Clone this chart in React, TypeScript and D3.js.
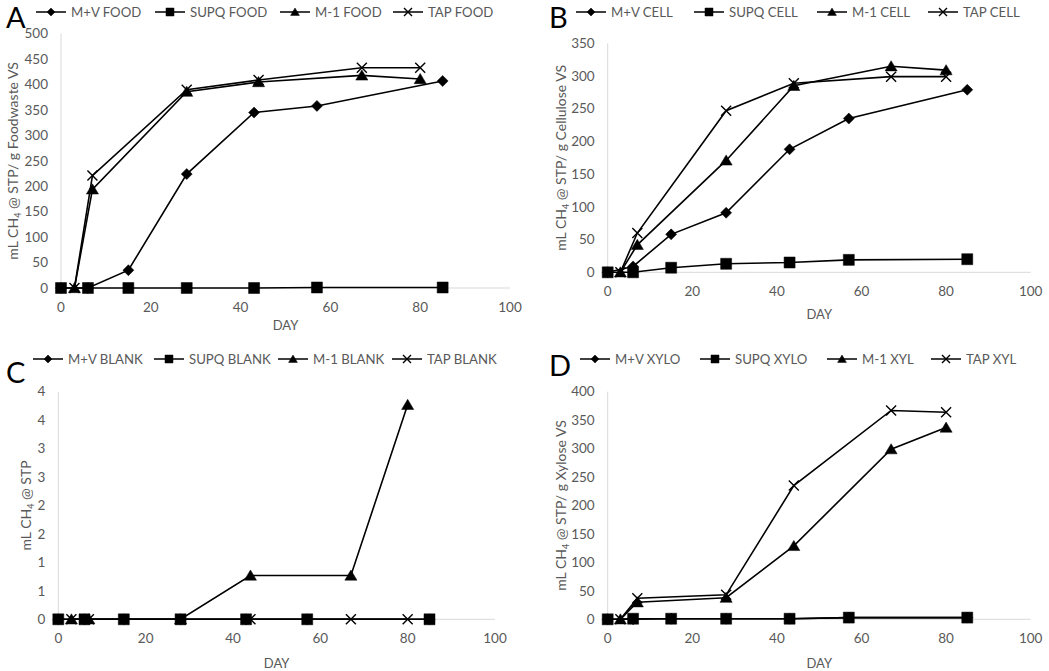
import React from 'react';
import * as d3 from 'd3';

// ---- data ----
const daysMV = [0, 6, 15, 28, 43, 57, 85]; // M+V and SUPQ sampling days
const daysM1 = [3, 7, 28, 44, 67, 80]; // M-1 and TAP sampling days

const foodNames = ['M+V FOOD', 'SUPQ FOOD', 'M-1 FOOD', 'TAP FOOD'];
const foodMV = [0, 0, 35, 224, 345, 358, 407];
const foodSUPQ = [0, 0, 0, 0, 0, 1, 1];
const foodM1 = [0, 194, 386, 405, 418, 411];
const foodTAP = [0, 221, 390, 409, 433, 433];

const cellNames = ['M+V CELL', 'SUPQ CELL', 'M-1 CELL', 'TAP CELL'];
const cellMV = [0, 9, 58, 91, 188, 235, 279];
const cellSUPQ = [0, 0, 7, 13, 15, 19, 20];
const cellM1 = [0, 42, 171, 285, 315, 309];
const cellTAP = [0, 60, 247, 289, 299, 299];

const blankNames = ['M+V BLANK', 'SUPQ BLANK', 'M-1 BLANK', 'TAP BLANK'];
const blankMV = [0, 0, 0, 0, 0, 0, 0];
const blankSUPQ = [0, 0, 0, 0, 0, 0, 0];
const blankM1 = [0, 0, 0, 0.77, 0.77, 3.77];
const blankTAP = [0, 0, 0, 0, 0, 0];

const xyloNames = ['M+V XYLO', 'SUPQ XYLO', 'M-1 XYL', 'TAP XYL'];
const xyloMV = [0, 0, 1, 1, 1, 3, 3];
const xyloSUPQ = [0, 1, 1, 1, 1, 3, 3];
const xyloM1 = [0, 30, 38, 129, 299, 337];
const xyloTAP = [0, 37, 43, 235, 367, 364];

const xTicks = [0, 20, 40, 60, 80, 100];
const yTicksA = d3.range(0, 501, 50);
const yTicksB = d3.range(0, 351, 50);
const yTicksC = d3.range(0, 4.01, 0.5);
const yTicksD = d3.range(0, 401, 50);

const markerKinds = ['diamond', 'square', 'triangle', 'x'];

const FONT = 'Lato, "Open Sans", sans-serif';
const GRAY = '#595959';
const AXIS = '#d9d9d9';

function markerPath(kind: string, s: number) {
  if (kind === 'diamond') return `M0,${-s}L${s},0L0,${s}L${-s},0Z`;
  if (kind === 'square') return `M${-s},${-s}H${s}V${s}H${-s}Z`;
  if (kind === 'triangle') return `M0,${-s}L${s * 1.1},${s * 0.85}L${-s * 1.1},${s * 0.85}Z`;
  return `M${-s},${-s}L${s},${s}M${s},${-s}L${-s},${s}`;
}

function Marker({ kind, x, y, s }: { kind: string; x: number; y: number; s: number }) {
  const isX = kind === 'x';
  return (
    <path
      d={markerPath(kind, s)}
      transform={`translate(${x},${y})`}
      fill={isX ? 'none' : '#000'}
      stroke="#000"
      strokeWidth={isX ? 1.4 : 0.5}
    />
  );
}

type PanelProps = {
  letter: string;
  letterX: number;
  letterY: number;
  names: string[];
  series: number[][];
  yMax: number;
  yTicks: number[];
  yFmt: (v: number) => string;
  x0: number;
  x1: number;
  y0: number;
  y1: number;
  legendY: number;
  legendX: number[];
  titleX: number;
  titleRest: string;
  dayY: number;
};

function Panel(p: PanelProps) {
  const x = d3.scaleLinear().domain([0, 100]).range([p.x0, p.x1]);
  const y = d3.scaleLinear().domain([0, p.yMax]).range([p.y0, p.y1]);
  const daysFor = (i: number) => (i < 2 ? daysMV : daysM1);
  const line = d3.line<[number, number]>().x((d) => x(d[0])).y((d) => y(d[1]));
  const midY = (p.y0 + p.y1) / 2;
  return (
    <g>
      <text x={p.letterX} y={p.letterY} fontFamily={FONT} fontSize={29} fill="#000">
        {p.letter}
      </text>
      {p.names.map((n, i) => {
        const lx = p.legendX[i];
        return (
          <g key={n}>
            <line x1={lx} x2={lx + 30} y1={p.legendY} y2={p.legendY} stroke="#000" strokeWidth={1.5} />
            <Marker kind={markerKinds[i]} x={lx + 15} y={p.legendY} s={4} />
            <text x={lx + 35} y={p.legendY} dy="0.35em" fontFamily={FONT} fontSize={13.2} fill={GRAY}>
              {n}
            </text>
          </g>
        );
      })}
      <line x1={p.x0} x2={p.x0} y1={p.y0} y2={p.y1} stroke={AXIS} strokeWidth={1} />
      <line x1={p.x0} x2={p.x1} y1={p.y0} y2={p.y0} stroke={AXIS} strokeWidth={1} />
      {p.yTicks.map((t) => (
        <text key={'y' + t} x={p.x0 - 13} y={y(t)} dy="0.35em" textAnchor="end" fontFamily={FONT} fontSize={13.5} fill={GRAY}>
          {p.yFmt(t)}
        </text>
      ))}
      {xTicks.map((t) => (
        <text key={'x' + t} x={x(t)} y={p.y0 + 19} dy="0.35em" textAnchor="middle" fontFamily={FONT} fontSize={13.5} fill={GRAY}>
          {t}
        </text>
      ))}
      <text x={(p.x0 + p.x1) / 2} y={p.dayY} dy="0.35em" textAnchor="middle" fontFamily={FONT} fontSize={13} fill={GRAY}>
        DAY
      </text>
      <text
        transform={`translate(${p.titleX},${midY}) rotate(-90)`}
        textAnchor="middle"
        dy="0.35em"
        fontFamily={FONT}
        fontSize={14}
        fill={GRAY}
      >
        mL CH<tspan fontSize={9} dy="3">4</tspan>
        <tspan dy="-3">{p.titleRest}</tspan>
      </text>
      {p.series.map((vals, i) => {
        const pts = vals.map((v, j) => [daysFor(i)[j], v] as [number, number]);
        return (
          <g key={'s' + i}>
            <path d={line(pts) || ''} fill="none" stroke="#000" strokeWidth={1.6} />
            {pts.map((d, j) => (
              <Marker key={j} kind={markerKinds[i]} x={x(d[0])} y={y(d[1])} s={i === 3 ? 5 : 5.5} />
            ))}
          </g>
        );
      })}
    </g>
  );
}

export default function App() {
  const intFmt = (v: number) => String(v);
  const roundFmt = (v: number) => String(Math.round(v));
  return (
    <svg width={1049} height={671} style={{ position: 'absolute', left: 0, top: 0, background: '#fff' }}>
      <rect width={1049} height={671} fill="#fff" />
      <Panel
        letter="A" letterX={6} letterY={28}
        names={foodNames} series={[foodMV, foodSUPQ, foodM1, foodTAP]}
        yMax={500} yTicks={yTicksA} yFmt={intFmt}
        x0={61} x1={510} y0={288} y1={33.7}
        legendY={12} legendX={[36, 155, 280, 393]}
        titleX={13} titleRest=" @ STP/ g Foodwaste VS" dayY={325}
      />
      <Panel
        letter="B" letterX={549} letterY={28}
        names={cellNames} series={[cellMV, cellSUPQ, cellM1, cellTAP]}
        yMax={350} yTicks={yTicksB} yFmt={intFmt}
        x0={607.7} x1={1030.7} y0={272.3} y1={43.3}
        legendY={12} legendX={[576, 694, 817, 928]}
        titleX={561} titleRest=" @ STP/ g Cellulose VS" dayY={314}
      />
      <Panel
        letter="C" letterX={6} letterY={383}
        names={blankNames} series={[blankMV, blankSUPQ, blankM1, blankTAP]}
        yMax={4} yTicks={yTicksC} yFmt={roundFmt}
        x0={58.3} x1={495} y0={619.3} y1={391.7}
        legendY={359} legendX={[33, 154, 278, 392]}
        titleX={26} titleRest=" @ STP" dayY={663}
      />
      <Panel
        letter="D" letterX={549} letterY={376}
        names={xyloNames} series={[xyloMV, xyloSUPQ, xyloM1, xyloTAP]}
        yMax={400} yTicks={yTicksD} yFmt={intFmt}
        x0={607.7} x1={1030.7} y0={619.3} y1={391.7}
        legendY={359} legendX={[580, 700, 827, 931]}
        titleX={561} titleRest=" @ STP/ g Xylose VS" dayY={663}
      />
    </svg>
  );
}
